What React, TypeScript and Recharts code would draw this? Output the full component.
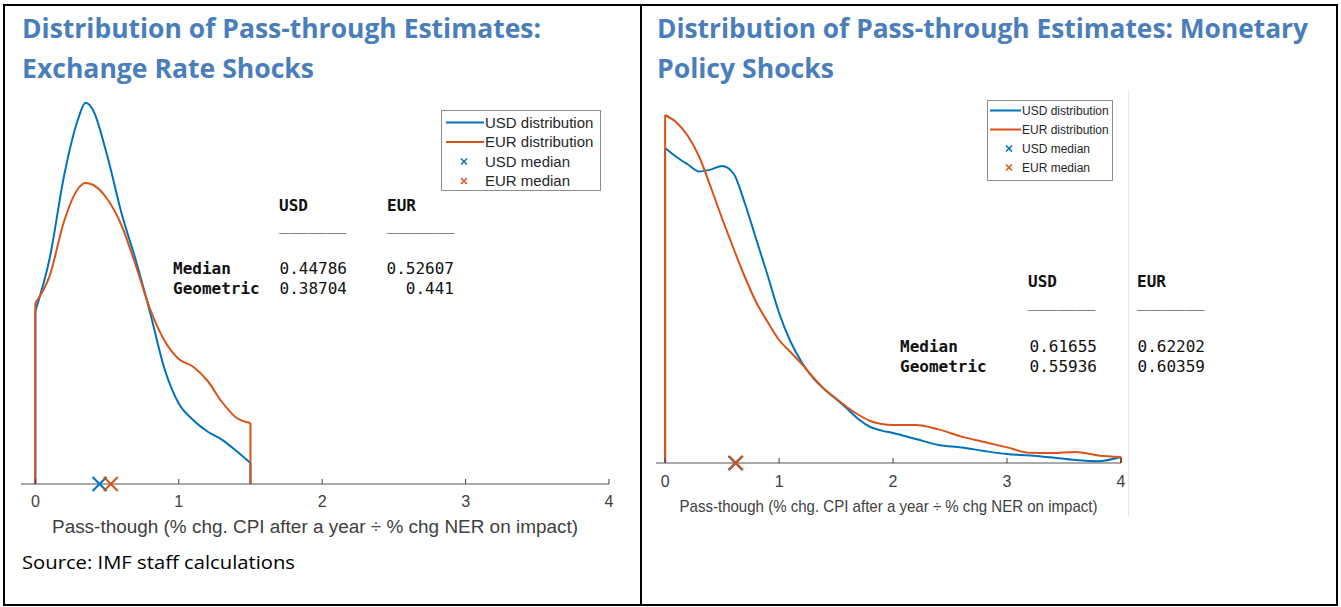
import React from "react";
import { ComposedChart, Line, Scatter, XAxis, YAxis, Legend } from "recharts";

const BLUE = "#0072BD";
const ORANGE = "#D95319";
const AXIS = "#404040";
const TITLE = "#4a7ebb";
const SANS = "'Liberation Sans', Arial, sans-serif";
const MONO = "'DejaVu Sans Mono', monospace";

// exchange rate shocks (kernel density)
const erX = [0, 0.1, 0.2, 0.3, 0.35, 0.4, 0.5, 0.6, 0.7, 0.8, 0.9, 1.0, 1.1, 1.2, 1.3, 1.4, 1.5];
const erUsd = [0.494, 0.645, 0.88, 1.045, 1.089, 1.07, 0.94, 0.775, 0.64, 0.49, 0.33, 0.23, 0.183, 0.15, 0.127, 0.095, 0.06];
const erEur = [0.517, 0.595, 0.75, 0.845, 0.86, 0.855, 0.815, 0.74, 0.625, 0.5, 0.41, 0.357, 0.335, 0.295, 0.235, 0.19, 0.174];
const erMedian = [0.44786, 0.52607];
const erGeometric = [0.38704, 0.441];

// monetary policy shocks
const mpX = [0, 0.1, 0.2, 0.3, 0.4, 0.5, 0.6, 0.7, 0.8, 0.9, 1.0, 1.1, 1.2, 1.3, 1.4, 1.5, 1.6, 1.7, 1.8, 1.9, 2.0, 2.2, 2.4, 2.6, 2.8, 3.0, 3.2, 3.4, 3.6, 3.8, 4.0];
const mpUsd = [1.05, 1.02, 0.995, 0.972, 0.978, 0.99, 0.965, 0.865, 0.745, 0.625, 0.5, 0.405, 0.335, 0.283, 0.245, 0.213, 0.18, 0.145, 0.12, 0.108, 0.1, 0.08, 0.06, 0.052, 0.04, 0.03, 0.025, 0.018, 0.01, 0.006, 0.02];
const mpEur = [1.16, 1.135, 1.09, 1.02, 0.92, 0.815, 0.715, 0.62, 0.535, 0.47, 0.41, 0.37, 0.33, 0.285, 0.245, 0.215, 0.185, 0.16, 0.14, 0.13, 0.127, 0.127, 0.112, 0.088, 0.07, 0.052, 0.034, 0.033, 0.037, 0.025, 0.02];
const mpMedian = [0.61655, 0.62202];
const mpGeometric = [0.55936, 0.60359];

const xTicks = [0, 1, 2, 3, 4];
const currencies = ["USD", "EUR"];
const statRows = ["Median", "Geometric"];
const legendLabels = ["USD distribution", "EUR distribution", "USD median", "EUR median"];
const axisTitle = "Pass-though (% chg. CPI after a year \u00f7 % chg NER on impact)";

const toPts = (xs: number[], ys: number[]) => xs.map((x, i) => ({ x, y: ys[i] }));
const startEdge = (xs: number[], ys: number[]) => [{ x: xs[0], y: 0 }, { x: xs[0], y: ys[0] }];
const endEdge = (xs: number[], ys: number[]) => [
  { x: xs[xs.length - 1], y: ys[ys.length - 1] },
  { x: xs[xs.length - 1], y: 0 },
];

function cross(color: string, s: number) {
  return (p: any) => (
    <path
      d={`M${p.cx - s},${p.cy - s}L${p.cx + s},${p.cy + s}M${p.cx - s},${p.cy + s}L${p.cx + s},${p.cy - s}`}
      stroke={color}
      strokeWidth={2}
      fill="none"
    />
  );
}

function makeTick(fs: number, dy: number) {
  return (p: any) => (
    <g>
      <line x1={p.x} x2={p.x} y1={p.y} y2={p.y - 5} stroke={AXIS} />
      <text x={p.x} y={p.y + dy} textAnchor="middle" fontSize={fs} fill={AXIS} fontFamily={SANS}>
        {p.payload.value}
      </text>
    </g>
  );
}

type LegendCfg = { w: number; h: number; row0: number; rowStep: number; l1: number; l2: number; tx: number; mx: number; fs: number };

function makeLegend(c: LegendCfg) {
  const colors = [BLUE, ORANGE, BLUE, ORANGE];
  return () => (
    <svg width={c.w} height={c.h} style={{ display: "block" }}>
      <rect x={0.5} y={0.5} width={c.w - 1} height={c.h - 1} fill="#fff" stroke="#8c8c8c" />
      {legendLabels.map((lab, i) => {
        const y = c.row0 + i * c.rowStep;
        return (
          <g key={lab}>
            {i < 2 ? (
              <line x1={c.l1} x2={c.l2} y1={y} y2={y} stroke={colors[i]} strokeWidth={2} />
            ) : (
              <path d={`M${c.mx - 3},${y - 3}L${c.mx + 3},${y + 3}M${c.mx - 3},${y + 3}L${c.mx + 3},${y - 3}`} stroke={colors[i]} strokeWidth={1.5} />
            )}
            <text x={c.tx} y={y + c.fs * 0.36} fontSize={c.fs} fill="#262626" fontFamily={SANS}>
              {lab}
            </text>
          </g>
        );
      })}
    </svg>
  );
}

type PanelProps = {
  left: number;
  width: number;
  margin: { top: number; right: number; bottom: number; left: number };
  xDomain: [number, number];
  yDomain: [number, number];
  xs: number[];
  usd: number[];
  eur: number[];
  median: number[];
  tickFs: number;
  tickDy: number;
  labelFs: number;
  labelDy: number;
  labelLen: number;
  legend: LegendCfg;
  legendPos: { left: number; top: number };
};

function Panel(p: PanelProps) {
  const series = [
    { c: BLUE, ys: p.usd },
    { c: ORANGE, ys: p.eur },
  ];
  return (
    <div style={{ position: "absolute", left: p.left, top: 0 }}>
      <ComposedChart width={p.width} height={607} margin={p.margin}>
        <XAxis
          dataKey="x"
          type="number"
          domain={p.xDomain}
          ticks={xTicks}
          interval={0}
          height={60}
          tickSize={0}
          tickMargin={0}
          tickLine={false}
          axisLine={{ stroke: "#555" }}
          tick={makeTick(p.tickFs, p.tickDy)}
          label={{
            content: (lp: any) => {
              const vb = lp.viewBox;
              return (
                <text
                  x={vb.x + vb.width / 2}
                  y={vb.y + p.labelDy}
                  textAnchor="middle"
                  fontSize={p.labelFs}
                  fill={AXIS}
                  fontFamily={SANS}
                  textLength={p.labelLen}
                  lengthAdjust="spacingAndGlyphs"
                >
                  {axisTitle}
                </text>
              );
            },
          }}
        />
        <YAxis dataKey="y" type="number" domain={p.yDomain} hide />
        {series.map((s, i) => [
          <Line key={`c${i}`} data={toPts(p.xs, s.ys)} dataKey="y" type="monotone" stroke={s.c} strokeWidth={2} dot={false} isAnimationActive={false} />,
          <Line key={`s${i}`} data={startEdge(p.xs, s.ys)} dataKey="y" type="linear" stroke={s.c} strokeWidth={2} dot={false} isAnimationActive={false} />,
          <Line key={`e${i}`} data={endEdge(p.xs, s.ys)} dataKey="y" type="linear" stroke={s.c} strokeWidth={2} dot={false} isAnimationActive={false} />,
        ])}
        {series.map((s, i) => (
          <Scatter key={`m${i}`} data={[{ x: p.median[i], y: 0 }]} dataKey="y" fill={s.c} shape={cross(s.c, 7)} isAnimationActive={false} />
        ))}
        <Legend
          layout="vertical"
          align="center"
          verticalAlign="middle"
          content={makeLegend(p.legend)}
          wrapperStyle={{ left: p.legendPos.left, top: p.legendPos.top, width: p.legend.w }}
        />
      </ComposedChart>
    </div>
  );
}

type TableCfg = { labelX: number; colX: number[]; colEnd: number[]; headY: number; lineY: number; rowY: number[] };

function StatsTable({ cfg, median, geometric }: { cfg: TableCfg; median: number[]; geometric: number[] }) {
  const vals = [median, geometric];
  return (
    <g fontFamily={MONO} fontSize={16} fill="#111">
      {currencies.map((c, i) => (
        <g key={c}>
          <text x={cfg.colX[i]} y={cfg.headY} fontWeight="bold">{c}</text>
          <text x={cfg.colX[i]} y={cfg.lineY}>_______</text>
        </g>
      ))}
      {statRows.map((r, j) => (
        <g key={r}>
          <text x={cfg.labelX} y={cfg.rowY[j]} fontWeight="bold">{r}</text>
          {currencies.map((c, i) => (
            <text key={c} x={cfg.colEnd[i]} y={cfg.rowY[j]} textAnchor="end">
              {String(vals[j][i])}
            </text>
          ))}
        </g>
      ))}
    </g>
  );
}

const line = (s: React.CSSProperties) => <div style={{ position: "absolute", background: "#000", ...s }} />;

export default function App() {
  return (
    <div style={{ position: "absolute", left: 0, top: 0, width: 1341, height: 607, background: "#fff", overflow: "hidden" }}>
      <Panel
        left={0}
        width={641}
        margin={{ top: 99, right: 32, bottom: 63, left: 21 }}
        xDomain={[-0.1, 4]}
        yDomain={[0, 1.1]}
        xs={erX}
        usd={erUsd}
        eur={erEur}
        median={erMedian}
        tickFs={16}
        tickDy={23}
        labelFs={18}
        labelDy={49}
        labelLen={526}
        legend={{ w: 160, h: 81, row0: 12.5, rowStep: 19.5, l1: 5, l2: 43, tx: 44, mx: 23, fs: 15 }}
        legendPos={{ left: 441, top: 110 }}
      />
      <Panel
        left={642}
        width={699}
        margin={{ top: 103, right: 220, bottom: 84, left: 14 }}
        xDomain={[-0.08, 4]}
        yDomain={[0, 1.2]}
        xs={mpX}
        usd={mpUsd}
        eur={mpEur}
        median={mpMedian}
        tickFs={16}
        tickDy={24}
        labelFs={17}
        labelDy={49}
        labelLen={418}
        legend={{ w: 126, h: 81, row0: 10.5, rowStep: 19, l1: 3, l2: 34, tx: 35, mx: 22, fs: 12 }}
        legendPos={{ left: 345, top: 100 }}
      />
      <div style={{ position: "absolute", left: 1128, top: 90, width: 1, height: 427, background: "#e6e6e6" }} />
      <svg width={1341} height={607} style={{ position: "absolute", left: 0, top: 0, pointerEvents: "none" }}>
        <g fontFamily="'Open Sans', sans-serif" fontWeight={700} fontSize={26} fill={TITLE}>
          <text x={22} y={38} textLength={519} lengthAdjust="spacingAndGlyphs">Distribution of Pass-through Estimates:</text>
          <text x={22} y={78} textLength={292} lengthAdjust="spacingAndGlyphs">Exchange Rate Shocks</text>
          <text x={657} y={38} textLength={651} lengthAdjust="spacingAndGlyphs">Distribution of Pass-through Estimates: Monetary</text>
          <text x={657} y={78} textLength={177} lengthAdjust="spacingAndGlyphs">Policy Shocks</text>
        </g>
        <StatsTable
          cfg={{ labelX: 173, colX: [279, 387], colEnd: [347, 454], headY: 211, lineY: 230, rowY: [274, 294] }}
          median={erMedian}
          geometric={erGeometric}
        />
        <StatsTable
          cfg={{ labelX: 900, colX: [1028, 1137], colEnd: [1097, 1205], headY: 287, lineY: 307, rowY: [352, 372] }}
          median={mpMedian}
          geometric={mpGeometric}
        />
        <text x={22} y={569} fontFamily="'Open Sans', sans-serif" fontSize={18} fill="#000" textLength={273} lengthAdjust="spacingAndGlyphs">
          Source: IMF staff calculations
        </text>
      </svg>
      {line({ left: 3, top: 4, width: 1335, height: 2 })}
      {line({ left: 3, top: 604, width: 1335, height: 2 })}
      {line({ left: 3, top: 4, width: 2, height: 602 })}
      {line({ left: 640, top: 4, width: 2, height: 602 })}
      {line({ left: 1336, top: 4, width: 2, height: 602 })}
    </div>
  );
}
